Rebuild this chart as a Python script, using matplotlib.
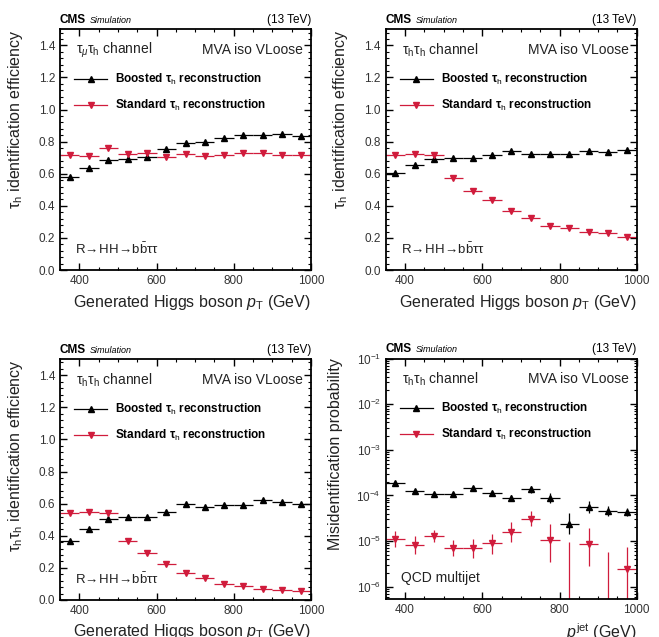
import numpy as np
import matplotlib
matplotlib.use("Agg")
from matplotlib import pyplot as plt
from matplotlib.lines import Line2D
from matplotlib.ticker import MultipleLocator, LogLocator, NullFormatter, FormatStrFormatter

plt.rcParams["font.family"] = ["Liberation Sans", "DejaVu Sans"]
plt.rcParams["mathtext.fontset"] = "custom"
plt.rcParams["mathtext.rm"] = "Liberation Sans"
plt.rcParams["mathtext.it"] = "Liberation Sans:italic"
plt.rcParams["mathtext.bf"] = "Liberation Sans:bold"
plt.rcParams["font.size"] = 8.5

# 50 GeV bins from 350 to 1000 GeV
bin_edges = np.arange(350, 1001, 50)
pt = (bin_edges[:-1] + bin_edges[1:]) / 2

# tau_mu tau_h channel
mh_boosted = [0.58, 0.635, 0.685, 0.69, 0.705, 0.755, 0.79, 0.80, 0.82, 0.84, 0.84, 0.845, 0.835]
mh_standard = [0.72, 0.71, 0.76, 0.725, 0.73, 0.705, 0.725, 0.71, 0.72, 0.73, 0.73, 0.72, 0.72]

# tau_h tau_h channel, single tau_h
hh_boosted = [0.605, 0.655, 0.695, 0.70, 0.70, 0.72, 0.74, 0.725, 0.725, 0.725, 0.74, 0.735, 0.745]
hh_standard = [0.715, 0.725, 0.72, 0.575, 0.495, 0.435, 0.37, 0.325, 0.275, 0.26, 0.235, 0.23, 0.205]

# tau_h tau_h channel, both tau_h
pair_boosted = [0.37, 0.44, 0.505, 0.52, 0.52, 0.55, 0.595, 0.58, 0.59, 0.59, 0.625, 0.61, 0.60]
pair_standard = [0.54, 0.55, 0.545, 0.37, 0.29, 0.225, 0.17, 0.14, 0.10, 0.09, 0.07, 0.065, 0.055]

# QCD multijet misidentification
fake_boosted = [1.9e-4, 1.24e-4, 1.05e-4, 1.05e-4, 1.45e-4, 1.12e-4, 8.9e-5, 1.35e-4, 8.9e-5, 2.4e-5, 5.6e-5, 4.5e-5, 4.4e-5]
fake_boosted_lo = [0.15e-4, 0.10e-4, 0.08e-4, 0.08e-4, 0.12e-4, 0.10e-4, 1.3e-5, 2.3e-5, 2.0e-5, 1.0e-5, 1.5e-5, 1.0e-5, 0.8e-5]
fake_boosted_hi = [0.15e-4, 0.10e-4, 0.08e-4, 0.08e-4, 0.12e-4, 0.10e-4, 1.5e-5, 2.8e-5, 2.5e-5, 1.7e-5, 2.1e-5, 1.4e-5, 1.0e-5]
fake_standard = [1.1e-5, 8.2e-6, 1.29e-5, 7.1e-6, 6.9e-6, 8.9e-6, 1.6e-5, 3.1e-5, 1.05e-5, 3e-7, 8.6e-6, 3e-7, 2.44e-6]
fake_standard_lo = [3.7e-6, 3.0e-6, 3.3e-6, 2.4e-6, 2.7e-6, 3.7e-6, 6.5e-6, 1.0e-5, 7.0e-6, 3e-7, 5.8e-6, 3e-7, 2.4e-6]
fake_standard_hi = [5.5e-6, 4.5e-6, 4.3e-6, 3.5e-6, 4.1e-6, 5.6e-6, 1.0e-5, 1.5e-5, 1.3e-5, 9.4e-6, 1.1e-5, 5.5e-6, 5.0e-6]

RED = "#d01c3c"
TXT = "#222222"

fig = plt.figure(figsize=(6.59, 6.37), dpi=100)
positions = [
    [0.091, 0.576, 0.381, 0.378],
    [0.5853, 0.576, 0.381, 0.378],
    [0.091, 0.0581, 0.381, 0.378],
    [0.5853, 0.0592, 0.381, 0.378],
]
axes = [fig.add_axes(p) for p in positions]

panels = [
    (mh_boosted, mh_standard, None, None, "τ$_{\\mu}$τ$_{\\rm h}$ channel", "τ$_{\\rm h}$ identification efficiency"),
    (hh_boosted, hh_standard, None, None, "τ$_{\\rm h}$τ$_{\\rm h}$ channel", "τ$_{\\rm h}$ identification efficiency"),
    (pair_boosted, pair_standard, None, None, "τ$_{\\rm h}$τ$_{\\rm h}$ channel", "τ$_{\\rm h}$τ$_{\\rm h}$ identification efficiency"),
    (fake_boosted, fake_standard, (fake_boosted_lo, fake_boosted_hi), (fake_standard_lo, fake_standard_hi),
     "τ$_{\\rm h}$τ$_{\\rm h}$ channel", "Misidentification probability"),
]

for i, (ax, (boosted, standard, berr, serr, channel, ylabel)) in enumerate(zip(axes, panels)):
    log = i == 3
    ax.errorbar(pt, boosted, xerr=25, yerr=berr, fmt="^", color="black", ms=4.8, lw=0.9, capsize=0)
    ax.errorbar(pt, standard, xerr=25, yerr=serr, fmt="v", color=RED, ms=4.8, lw=0.9, capsize=0)
    ax.set_xlim(350, 1000)
    ax.xaxis.set_major_locator(MultipleLocator(200))
    ax.xaxis.set_minor_locator(MultipleLocator(50))
    if log:
        ax.set_yscale("log")
        ax.set_ylim(5.3e-7, 0.1)
        ax.yaxis.set_major_locator(LogLocator(base=10, numticks=10))
        ax.yaxis.set_minor_locator(LogLocator(base=10, subs=np.arange(2, 10), numticks=20))
        ax.yaxis.set_minor_formatter(NullFormatter())
        ax.set_xlabel("$p^{\\rm jet}$ (GeV)", fontsize=11.5, loc="right", labelpad=4, color=TXT)
        ax.text(0.06, 0.087, "QCD multijet", transform=ax.transAxes, fontsize=10, va="center", color=TXT)
    else:
        ax.set_ylim(0, 1.5)
        ax.yaxis.set_major_locator(MultipleLocator(0.2))
        ax.yaxis.set_minor_locator(MultipleLocator(0.04))
        ax.yaxis.set_major_formatter(FormatStrFormatter("%.1f"))
        ax.set_xlabel("Generated Higgs boson $p_{\\rm T}$ (GeV)", fontsize=11.5, loc="right", labelpad=4, color=TXT)
        ax.text(0.06, 0.087, "R$\\!\\rightarrow\\!$HH$\\!\\rightarrow\\!$b$\\bar{\\rm b}$ττ", transform=ax.transAxes,
                fontsize=9.5, va="center", color=TXT)
    ax.set_ylabel(ylabel, fontsize=11.5, loc="top", labelpad=10, color=TXT)
    ax.tick_params(which="both", direction="in", top=True, right=True, labelsize=8.5, labelcolor="#333333")
    ax.tick_params(which="major", length=5, width=1)
    ax.tick_params(which="minor", length=2.5, width=0.8)
    for s in ax.spines.values():
        s.set_linewidth(1.3)
    ax.text(0.065, 0.914, channel, transform=ax.transAxes, fontsize=10, va="center", color=TXT)
    ax.text(0.967, 0.914, "MVA iso VLoose", transform=ax.transAxes, fontsize=10, va="center", ha="right", color=TXT)
    handles = [
        Line2D([], [], color="black", marker="^", ms=4.8, lw=0.9),
        Line2D([], [], color=RED, marker="v", ms=4.8, lw=0.9),
    ]
    labels = ["Boosted τ$_{\\rm h}$ reconstruction", "Standard τ$_{\\rm h}$ reconstruction"]
    ax.legend(handles, labels, loc="upper left", bbox_to_anchor=(0.056, 0.822), frameon=False,
              borderpad=0, borderaxespad=0, handlelength=2.8, handletextpad=0.7, labelspacing=0.9,
              prop={"weight": "bold", "size": 8.5})
    ax.text(0.0, 1.015, "CMS", transform=ax.transAxes, fontsize=8.5, fontweight="bold", va="bottom")
    ax.text(0.12, 1.017, "Simulation", transform=ax.transAxes, fontsize=6.5, style="italic", va="bottom")
    ax.text(1.0, 1.015, "(13 TeV)", transform=ax.transAxes, fontsize=8.5, va="bottom", ha="right")

fig.savefig("out.png", dpi=100)
